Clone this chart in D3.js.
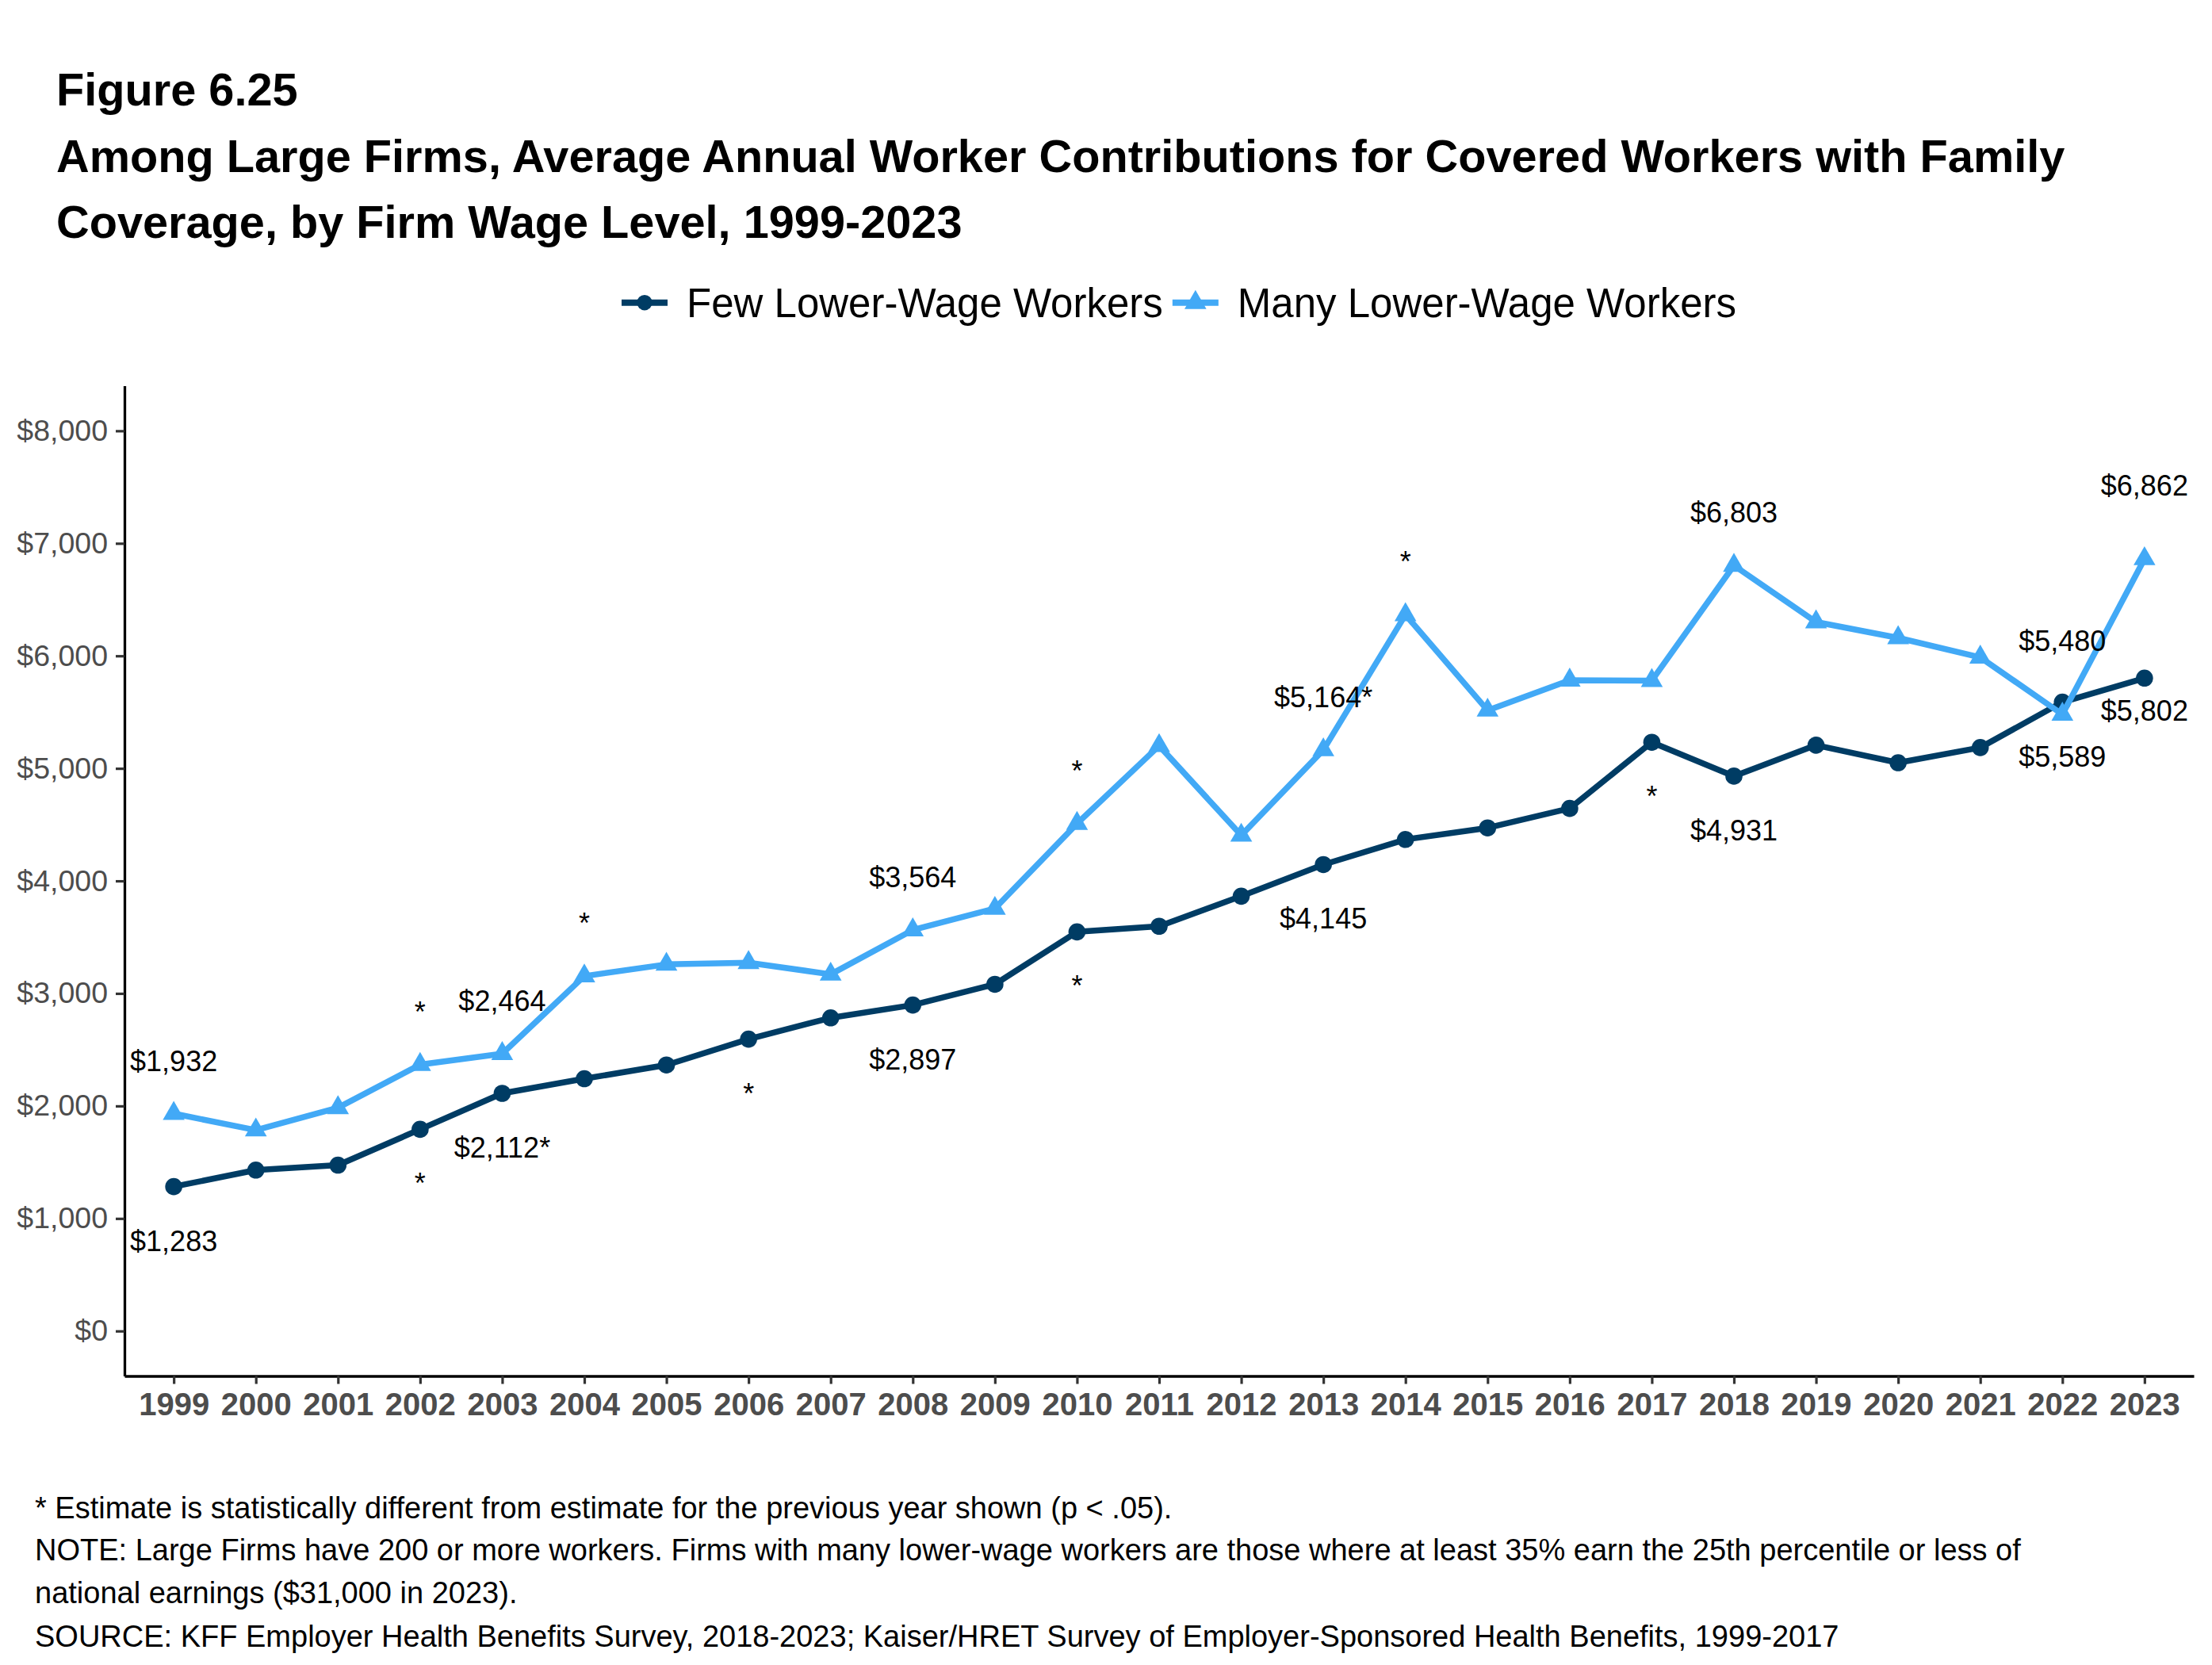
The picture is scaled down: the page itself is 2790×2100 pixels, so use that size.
<!DOCTYPE html>
<html>
<head>
<meta charset="utf-8">
<script src="https://cdn.jsdelivr.net/npm/d3@7"></script>
<style>
  body { margin: 0; background: #fff; }
  text { font-family: Arial, "Liberation Sans", sans-serif; }
</style>
</head>
<body>
<svg id="chart" width="2790" height="2100"></svg>
<script>
// values
var years = [1999, 2000, 2001, 2002, 2003, 2004, 2005, 2006, 2007, 2008, 2009, 2010,
             2011, 2012, 2013, 2014, 2015, 2016, 2017, 2018, 2019, 2020, 2021, 2022, 2023];
var fewWage  = [1283, 1430, 1474, 1792, 2112, 2242, 2364, 2594, 2783, 2897, 3081, 3547,
                3597, 3864, 4145, 4368, 4471, 4644, 5232, 4931, 5206, 5050, 5185, 5589, 5802];
var manyWage = [1932, 1785, 1984, 2367, 2464, 3154, 3258, 3273, 3170, 3564, 3755, 4509,
                5201, 4405, 5164, 6365, 5516, 5783, 5780, 6803, 6301, 6160, 5987, 5480, 6862];
var yTicks = [0, 1000, 2000, 3000, 4000, 5000, 6000, 7000, 8000];

var seriesNames = ["Few Lower-Wage Workers", "Many Lower-Wage Workers"];

// value labels: which series, year, text, where it sits
var labelSeries = ["many", "few", "many", "few", "many", "few", "many", "few",
                   "many", "few", "many", "few", "many", "few"];
var labelYears  = [1999, 1999, 2003, 2003, 2008, 2008, 2013, 2013, 2018, 2018, 2022, 2022, 2023, 2023];
var labelTexts  = ["$1,932", "$1,283", "$2,464", "$2,112*", "$3,564", "$2,897", "$5,164*", "$4,145",
                   "$6,803", "$4,931", "$5,480", "$5,589", "$6,862", "$5,802"];
var labelPos    = ["above", "below", "above", "below", "above", "below", "above", "below",
                   "above", "below", "high", "below", "high", "near"];

// significance asterisks
var sigManyYears = [2002, 2004, 2010, 2014];
var sigFewYears  = [2002, 2006, 2010, 2017];

var titleLines = [
  "Figure 6.25",
  "Among Large Firms, Average Annual Worker Contributions for Covered Workers with Family",
  "Coverage, by Firm Wage Level, 1999-2023"
];
var noteLines = [
  "* Estimate is statistically different from estimate for the previous year shown (p < .05).",
  "NOTE: Large Firms have 200 or more workers. Firms with many lower-wage workers are those where at least 35% earn the 25th percentile or less of",
  "national earnings ($31,000 in 2023).",
  "SOURCE: KFF Employer Health Benefits Survey, 2018-2023; Kaiser/HRET Survey of Employer-Sponsored Health Benefits, 1999-2017"
];

var fewColor = "#003c64", manyColor = "#42a9f6";

var svg = d3.select("#chart");

var x = d3.scaleLinear().domain([1998.4, 2023.6]).range([157, 2767]);
var y = d3.scaleLinear().domain([-400, 8400]).range([1735.5, 486.6]);

// titles
svg.selectAll(".title").data(titleLines).enter().append("text")
  .attr("class", "title")
  .attr("x", 71)
  .attr("y", function(d, i){ return [133, 217, 300][i]; })
  .attr("font-size", 57.7)
  .attr("font-weight", "bold")
  .attr("fill", "#000")
  .text(function(d){ return d; });

// axes
var yAxis = svg.append("g").attr("transform", "translate(157,0)")
  .call(d3.axisLeft(y).tickValues(yTicks)
    .tickFormat(function(d){ return "$" + d3.format(",")(d); })
    .tickSize(11).tickSizeOuter(0).tickPadding(10));
yAxis.selectAll("text").attr("font-size", 37.5).attr("fill", "#4d4d4d").style("font-family", "Arial, 'Liberation Sans', sans-serif");
yAxis.selectAll(".tick line").attr("stroke", "#333").attr("stroke-width", 3.2);
yAxis.select(".domain").attr("stroke", "#000").attr("stroke-width", 3.3);

var xAxis = svg.append("g").attr("transform", "translate(0,1735.5)")
  .call(d3.axisBottom(x).tickValues(years).tickFormat(d3.format("d"))
    .tickSize(10).tickSizeOuter(0).tickPadding(11));
xAxis.selectAll("text").attr("font-size", 40).attr("font-weight", "bold").attr("fill", "#4d4d4d").style("font-family", "Arial, 'Liberation Sans', sans-serif");
xAxis.selectAll(".tick line").attr("stroke", "#333").attr("stroke-width", 3.2);
xAxis.select(".domain").attr("stroke", "#000").attr("stroke-width", 3.3);

// lines and markers
var line = d3.line()
  .x(function(d, i){ return x(years[i]); })
  .y(function(d){ return y(d); });

var tri = d3.symbol().type(d3.symbolTriangle).size(330);

svg.append("path").datum(fewWage)
  .attr("d", line).attr("fill", "none")
  .attr("stroke", fewColor).attr("stroke-width", 7.5)
  .attr("stroke-linejoin", "round").attr("stroke-linecap", "butt");

svg.selectAll(".few-pt").data(fewWage).enter().append("circle")
  .attr("class", "few-pt")
  .attr("cx", function(d, i){ return x(years[i]); })
  .attr("cy", function(d){ return y(d); })
  .attr("r", 10.8)
  .attr("fill", fewColor);

svg.append("path").datum(manyWage)
  .attr("d", line).attr("fill", "none")
  .attr("stroke", manyColor).attr("stroke-width", 7.5)
  .attr("stroke-linejoin", "round").attr("stroke-linecap", "butt");

svg.selectAll(".many-pt").data(manyWage).enter().append("path")
  .attr("class", "many-pt")
  .attr("d", tri)
  .attr("transform", function(d, i){ return "translate(" + x(years[i]) + "," + y(d) + ")"; })
  .attr("fill", manyColor);

// labels
var posOffset = { above: -54, high: -80, below: 81, near: 54 };

function valueAt(series, yr){
  var i = years.indexOf(yr);
  return series == "few" ? fewWage[i] : manyWage[i];
}

svg.selectAll(".val-label").data(labelTexts).enter().append("text")
  .attr("class", "val-label")
  .attr("x", function(d, i){ return x(labelYears[i]); })
  .attr("y", function(d, i){ return y(valueAt(labelSeries[i], labelYears[i])) + posOffset[labelPos[i]]; })
  .attr("text-anchor", "middle")
  .attr("font-size", 36)
  .attr("fill", "#000")
  .text(function(d){ return d; });

svg.selectAll(".sig-many").data(sigManyYears).enter().append("text")
  .attr("class", "sig-many")
  .attr("x", function(d){ return x(d); })
  .attr("y", function(d){ return y(valueAt("many", d)) + posOffset.above; })
  .attr("text-anchor", "middle").attr("font-size", 36).attr("fill", "#000")
  .text("*");

svg.selectAll(".sig-few").data(sigFewYears).enter().append("text")
  .attr("class", "sig-few")
  .attr("x", function(d){ return x(d); })
  .attr("y", function(d){ return y(valueAt("few", d)) + posOffset.below; })
  .attr("text-anchor", "middle").attr("font-size", 36).attr("fill", "#000")
  .text("*");

// legend
var legend = svg.append("g").attr("transform", "translate(784,381.7)");
var lx = 0;
seriesNames.forEach(function(name, k){
  var col = k == 0 ? fewColor : manyColor;
  var g = legend.append("g").attr("transform", "translate(" + lx + ",0)");
  g.append("line").attr("x1", 0).attr("x2", 58).attr("y1", 0).attr("y2", 0)
    .attr("stroke", col).attr("stroke-width", 8);
  if (k == 0) {
    g.append("circle").attr("cx", 29).attr("cy", 0).attr("r", 9.7).attr("fill", col);
  } else {
    g.append("path").attr("d", tri).attr("transform", "translate(29,0)").attr("fill", col);
  }
  var t = g.append("text").attr("x", 82).attr("y", 0).attr("dy", "0.36em")
    .attr("font-size", 51).attr("fill", "#000").text(name);
  lx += 82 + t.node().getComputedTextLength() + 12;
});

// notes
svg.selectAll(".note").data(noteLines).enter().append("text")
  .attr("class", "note")
  .attr("x", 44)
  .attr("y", function(d, i){ return [1915, 1968, 2022, 2077][i]; })
  .attr("font-size", 38)
  .attr("fill", "#000")
  .text(function(d){ return d; });
</script>
</body>
</html>
